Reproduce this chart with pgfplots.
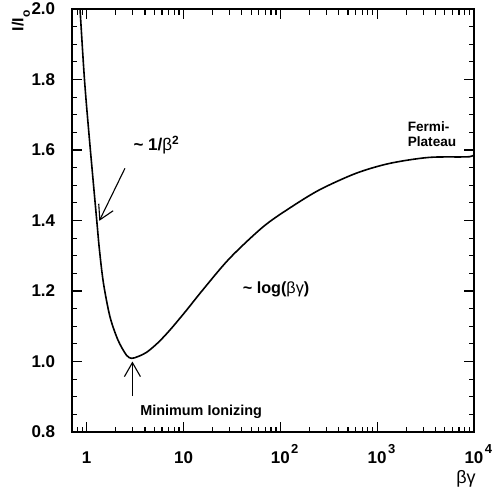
\documentclass[border=0pt]{standalone}
\usepackage{fontspec}
\setmainfont{Liberation Sans}
\usepackage{pgfplots}
\pgfplotsset{compat=1.18}
\usetikzlibrary{arrows.meta}

% exponent hung to the right of "10", so that "10" sits centred on the tick
\newcommand{\tenpow}[1]{10\rlap{\raisebox{5.3pt}[0pt][0pt]{\fontsize{6.5}{7}\selectfont\bfseries\kern0.7pt#1}}}

\tikzset{
  ann/.style={font=\fontsize{7.2}{8}\selectfont\bfseries, inner sep=0pt},
  barb/.style={-{Straight Barb[length=7pt, width=8pt, line width=0.55pt]}, line width=0.55pt},
}

\begin{document}
\begin{tikzpicture}
\begin{axis}[
  at={(0,0)}, anchor=south west,
  scale only axis, width=201pt, height=211.5pt,
  xmode=log, xmin=0.705, xmax=10000,
  ymin=0.8, ymax=2.0,
  axis line style={line width=1pt},
  tick style={line width=0.6pt, black},
  major tick length=5pt, minor tick length=2.75pt,
  tick align=inside,
  xtick={1,10,100,1000,10000},
  xticklabels={1,10,\tenpow{2},\tenpow{3},\tenpow{4}},
  minor xtick={0.8,0.9,2,3,4,5,6,7,8,9,20,30,40,50,60,70,80,90,
               200,300,400,500,600,700,800,900,
               2000,3000,4000,5000,6000,7000,8000,9000},
  ytick={0.8,1.0,1.2,1.4,1.6,1.8,2.0},
  yticklabels={0.8,1.0,1.2,1.4,1.6,1.8,2.0},
  minor y tick num=3,
  ticklabel style={font=\fontsize{8.5}{10}\selectfont\bfseries},
  xticklabel style={yshift=-6.5pt},
  yticklabel style={xshift=-4.9pt},
]
\addplot[black, line width=0.8pt, smooth, tension=0.5] coordinates {
  (0.829,2.054) (0.853,2.0) (0.949,1.799) (1.069,1.628) (1.271,1.399)
  (1.355,1.316) (1.490,1.222) (1.739,1.127) (2.102,1.061) (2.572,1.018)
  (2.91,1.009) (3.38,1.014) (4.155,1.026) (5.433,1.053) (7.226,1.089)
  (10.56,1.143) (15.8,1.203) (30.0,1.293) (66.3,1.382) (124.4,1.435)
  (253.7,1.487) (606,1.534) (1345,1.562) (3434,1.579) (8991,1.581)
  (10000,1.592)
};
% annotations
\draw[barb] (axis cs:2.483,1.548) -- (axis cs:1.349,1.399);
\draw[barb] (axis cs:2.966,0.902) -- (axis cs:2.966,1.0);
\node[ann, anchor=base west, font=\fontsize{8.5}{10}\selectfont\bfseries]
  at (axis cs:3.02,1.60) {\textasciitilde\ 1/{\mdseries β}\textsuperscript{2}};
\node[ann, anchor=base west, font=\fontsize{8.1}{9}\selectfont\bfseries]
  at (axis cs:40.6,1.193) {\textasciitilde\ log({\mdseries βγ})};
\node[ann, anchor=base west] at (axis cs:3.545,0.848) {Minimum Ionizing};
\node[ann, anchor=base west, font=\fontsize{6.8}{8}\selectfont\bfseries]
  at (axis cs:2053,1.652) {Fermi-};
\node[ann, anchor=base west, font=\fontsize{6.8}{8}\selectfont\bfseries]
  at (axis cs:2053,1.609) {Plateau};
\end{axis}
% axis labels
\node[font=\fontsize{9}{10}\selectfont, inner sep=0pt] at (197pt,-23.5pt) {βγ};
\node[rotate=90, anchor=base east, inner sep=0pt, font=\fontsize{8}{9}\selectfont\bfseries]
  at (-24.35pt,211pt) {I/I\raisebox{-3.3pt}{\fontsize{6}{6}\selectfont o}};
\pgfresetboundingbox
\path[use as bounding box] (-36pt,-31pt) rectangle (211pt,216pt);
\end{tikzpicture}
\end{document}
